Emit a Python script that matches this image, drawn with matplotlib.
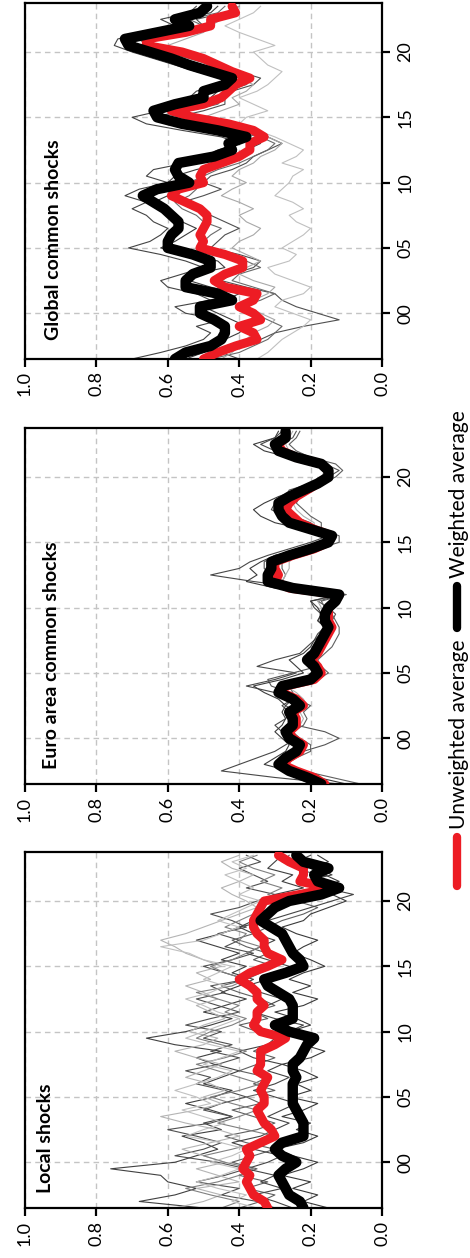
import numpy as np
import matplotlib
matplotlib.use("Agg")
import matplotlib.pyplot as plt
from matplotlib.lines import Line2D

plt.rcParams["font.family"] = ["Lato", "DejaVu Sans"]

# half-yearly observations, mid-1996 to mid-2023
years = np.arange(1996.5, 2023.6, 0.5)
year_ticks = [2000, 2005, 2010, 2015, 2020]
year_labels = ["00", "05", "10", "15", "20"]
value_ticks = [0.0, 0.2, 0.4, 0.6, 0.8, 1.0]

panel_titles = ["Global common shocks", "Euro area common shocks", "Local shocks"]
legend_labels = ["Unweighted average", "Weighted average"]

# ---- global common shocks
global_unweighted = [
    0.50, 0.46, 0.41, 0.35, 0.36, 0.40, 0.34, 0.36, 0.40, 0.36,
    0.35, 0.44, 0.47, 0.44, 0.39, 0.39, 0.44, 0.51, 0.50, 0.51,
    0.50, 0.49, 0.49, 0.51, 0.55, 0.59, 0.57, 0.50, 0.51, 0.50,
    0.45, 0.40, 0.37, 0.37, 0.33, 0.36, 0.43, 0.53, 0.59, 0.50,
    0.45, 0.43, 0.41, 0.37, 0.42, 0.46, 0.50, 0.56, 0.66, 0.66,
    0.55, 0.48, 0.48, 0.41, 0.42]
global_weighted = [
    0.58, 0.55, 0.48, 0.45, 0.44, 0.44, 0.47, 0.51, 0.51, 0.42,
    0.46, 0.55, 0.55, 0.53, 0.48, 0.48, 0.53, 0.60, 0.60, 0.59,
    0.57, 0.57, 0.59, 0.61, 0.64, 0.67, 0.63, 0.54, 0.57, 0.58,
    0.57, 0.47, 0.42, 0.43, 0.38, 0.46, 0.56, 0.63, 0.64, 0.58,
    0.50, 0.50, 0.44, 0.42, 0.48, 0.54, 0.59, 0.65, 0.71, 0.72,
    0.63, 0.54, 0.58, 0.51, 0.49]
global_countries = [
    [0.70, 0.62, 0.55, 0.50, 0.48, 0.52, 0.45, 0.55, 0.58, 0.48,
     0.52, 0.60, 0.62, 0.56, 0.50, 0.55, 0.62, 0.71, 0.65, 0.62,
     0.60, 0.64, 0.66, 0.70, 0.66, 0.72, 0.68, 0.60, 0.66, 0.64,
     0.55, 0.50, 0.46, 0.40, 0.45, 0.56, 0.66, 0.70, 0.62, 0.55,
     0.54, 0.52, 0.46, 0.44, 0.52, 0.58, 0.64, 0.70, 0.75, 0.74,
     0.66, 0.58, 0.62, 0.54, 0.52],
    [0.40, 0.45, 0.38, 0.34, 0.30, 0.22, 0.12, 0.18, 0.24, 0.28,
     0.30, 0.38, 0.45, 0.42, 0.36, 0.34, 0.40, 0.48, 0.46, 0.44,
     0.40, 0.44, 0.48, 0.52, 0.56, 0.50, 0.45, 0.50, 0.48, 0.42,
     0.38, 0.36, 0.32, 0.28, 0.32, 0.42, 0.52, 0.58, 0.50, 0.44,
     0.44, 0.42, 0.36, 0.34, 0.40, 0.46, 0.52, 0.58, 0.64, 0.66,
     0.58, 0.50, 0.52, 0.44, 0.40],
    [0.55, 0.50, 0.46, 0.44, 0.40, 0.38, 0.42, 0.46, 0.50, 0.44,
     0.40, 0.48, 0.54, 0.52, 0.44, 0.46, 0.54, 0.62, 0.58, 0.55,
     0.52, 0.56, 0.60, 0.62, 0.64, 0.60, 0.56, 0.60, 0.58, 0.52,
     0.44, 0.42, 0.38, 0.34, 0.38, 0.48, 0.58, 0.64, 0.56, 0.50,
     0.48, 0.46, 0.40, 0.38, 0.44, 0.50, 0.56, 0.62, 0.70, 0.72,
     0.62, 0.54, 0.58, 0.48, 0.46],
    [0.35, 0.32, 0.30, 0.28, 0.25, 0.22, 0.20, 0.25, 0.30, 0.28,
     0.22, 0.20, 0.25, 0.30, 0.32, 0.26, 0.24, 0.28, 0.25, 0.22,
     0.20, 0.24, 0.26, 0.22, 0.25, 0.30, 0.28, 0.26, 0.25, 0.22,
     0.28, 0.24, 0.22, 0.26, 0.30, 0.35, 0.40, 0.38, 0.32, 0.36,
     0.40, 0.35, 0.32, 0.30, 0.28, 0.32, 0.34, 0.36, 0.30, 0.35,
     0.40, 0.44, 0.40, 0.36, 0.34],
    [0.48, 0.40, 0.36, 0.32, 0.30, 0.28, 0.32, 0.36, 0.40, 0.34,
     0.30, 0.36, 0.42, 0.40, 0.34, 0.38, 0.46, 0.52, 0.50, 0.48,
     0.45, 0.50, 0.52, 0.56, 0.58, 0.54, 0.52, 0.54, 0.50, 0.46,
     0.40, 0.36, 0.32, 0.30, 0.34, 0.44, 0.56, 0.60, 0.54, 0.46,
     0.44, 0.44, 0.38, 0.36, 0.42, 0.48, 0.54, 0.60, 0.66, 0.68,
     0.58, 0.50, 0.54, 0.46, 0.44],
    [0.45, 0.42, 0.40, 0.38, 0.36, 0.32, 0.30, 0.34, 0.38, 0.36,
     0.32, 0.30, 0.36, 0.40, 0.38, 0.34, 0.38, 0.42, 0.40, 0.36,
     0.34, 0.38, 0.40, 0.36, 0.40, 0.45, 0.42, 0.38, 0.42, 0.40,
     0.36, 0.34, 0.30, 0.28, 0.32, 0.40, 0.48, 0.50, 0.45, 0.40,
     0.42, 0.38, 0.36, 0.40, 0.44, 0.48, 0.52, 0.58, 0.60, 0.55,
     0.50, 0.48, 0.45, 0.42, 0.40],
]

# ---- euro area common shocks
euro_unweighted = [
    0.16, 0.19, 0.24, 0.28, 0.26, 0.23, 0.22, 0.25, 0.26, 0.24,
    0.24, 0.25, 0.22, 0.24, 0.28, 0.27, 0.19, 0.17, 0.18, 0.20,
    0.18, 0.17, 0.16, 0.15, 0.14, 0.15, 0.15, 0.15, 0.13, 0.12,
    0.26, 0.30, 0.29, 0.30, 0.30, 0.25, 0.19, 0.15, 0.14, 0.19,
    0.23, 0.25, 0.27, 0.26, 0.24, 0.21, 0.18, 0.15, 0.15, 0.17,
    0.24, 0.28, 0.29, 0.27, 0.27]
euro_weighted = [
    0.17, 0.21, 0.26, 0.29, 0.27, 0.24, 0.23, 0.26, 0.27, 0.25,
    0.25, 0.26, 0.23, 0.25, 0.29, 0.28, 0.20, 0.18, 0.19, 0.21,
    0.19, 0.18, 0.17, 0.16, 0.15, 0.16, 0.16, 0.15, 0.13, 0.12,
    0.25, 0.32, 0.32, 0.31, 0.31, 0.26, 0.20, 0.15, 0.14, 0.20,
    0.26, 0.28, 0.29, 0.29, 0.26, 0.22, 0.18, 0.15, 0.15, 0.17,
    0.24, 0.29, 0.30, 0.27, 0.27]
euro_countries = [
    [0.12, 0.30, 0.45, 0.40, 0.35, 0.30, 0.27, 0.24, 0.28, 0.30,
     0.27, 0.26, 0.28, 0.25, 0.30, 0.38, 0.30, 0.24, 0.35, 0.30,
     0.23, 0.21, 0.19, 0.18, 0.16, 0.18, 0.17, 0.19, 0.20, 0.11,
     0.22, 0.36, 0.48, 0.40, 0.37, 0.32, 0.26, 0.20, 0.15, 0.20,
     0.22, 0.27, 0.31, 0.30, 0.28, 0.24, 0.20, 0.16, 0.14, 0.18,
     0.25, 0.30, 0.34, 0.30, 0.28],
    [0.20, 0.24, 0.28, 0.30, 0.28, 0.22, 0.16, 0.12, 0.16, 0.24,
     0.25, 0.24, 0.27, 0.25, 0.26, 0.31, 0.32, 0.25, 0.18, 0.20,
     0.21, 0.18, 0.17, 0.14, 0.13, 0.14, 0.13, 0.15, 0.18, 0.11,
     0.24, 0.30, 0.31, 0.33, 0.33, 0.30, 0.21, 0.14, 0.13, 0.18,
     0.20, 0.25, 0.26, 0.28, 0.27, 0.26, 0.20, 0.15, 0.12, 0.16,
     0.22, 0.27, 0.29, 0.25, 0.24],
    [0.06, 0.14, 0.22, 0.27, 0.24, 0.20, 0.20, 0.23, 0.25, 0.22,
     0.21, 0.22, 0.20, 0.24, 0.25, 0.26, 0.18, 0.15, 0.17, 0.18,
     0.16, 0.14, 0.13, 0.12, 0.12, 0.13, 0.14, 0.16, 0.17, 0.10,
     0.21, 0.28, 0.27, 0.28, 0.28, 0.24, 0.18, 0.12, 0.12, 0.17,
     0.17, 0.20, 0.22, 0.24, 0.23, 0.20, 0.17, 0.13, 0.11, 0.13,
     0.20, 0.24, 0.26, 0.24, 0.23],
    [0.18, 0.20, 0.22, 0.26, 0.25, 0.22, 0.22, 0.24, 0.25, 0.23,
     0.22, 0.23, 0.21, 0.22, 0.24, 0.27, 0.22, 0.19, 0.20, 0.20,
     0.18, 0.17, 0.16, 0.15, 0.15, 0.16, 0.16, 0.17, 0.18, 0.14,
     0.24, 0.28, 0.27, 0.26, 0.26, 0.24, 0.20, 0.15, 0.15, 0.19,
     0.19, 0.22, 0.24, 0.25, 0.24, 0.22, 0.19, 0.17, 0.16, 0.17,
     0.22, 0.26, 0.27, 0.26, 0.25],
    [0.10, 0.18, 0.26, 0.33, 0.30, 0.27, 0.26, 0.28, 0.30, 0.28,
     0.27, 0.28, 0.27, 0.29, 0.33, 0.36, 0.28, 0.22, 0.24, 0.26,
     0.22, 0.20, 0.19, 0.17, 0.16, 0.18, 0.17, 0.18, 0.20, 0.12,
     0.30, 0.38, 0.35, 0.37, 0.34, 0.30, 0.22, 0.16, 0.15, 0.22,
     0.30, 0.34, 0.36, 0.33, 0.29, 0.24, 0.19, 0.15, 0.14, 0.16,
     0.26, 0.33, 0.36, 0.30, 0.29],
]

# ---- local shocks
local_unweighted = [
    0.32, 0.33, 0.36, 0.37, 0.38, 0.37, 0.39, 0.38, 0.37, 0.38,
    0.34, 0.30, 0.31, 0.33, 0.34, 0.35, 0.33, 0.33, 0.34, 0.33,
    0.32, 0.35, 0.34, 0.34, 0.34, 0.30, 0.27, 0.34, 0.36, 0.35,
    0.35, 0.33, 0.35, 0.35, 0.37, 0.40, 0.37, 0.32, 0.28, 0.32,
    0.33, 0.33, 0.35, 0.36, 0.36, 0.35, 0.34, 0.33, 0.23, 0.14,
    0.23, 0.22, 0.22, 0.26, 0.29]
local_weighted = [
    0.22, 0.23, 0.26, 0.27, 0.28, 0.29, 0.27, 0.24, 0.28, 0.30,
    0.28, 0.22, 0.22, 0.22, 0.23, 0.24, 0.25, 0.25, 0.25, 0.25,
    0.24, 0.25, 0.25, 0.23, 0.22, 0.21, 0.19, 0.26, 0.30, 0.25,
    0.25, 0.25, 0.26, 0.29, 0.32, 0.33, 0.27, 0.22, 0.23, 0.25,
    0.26, 0.27, 0.28, 0.31, 0.34, 0.32, 0.30, 0.26, 0.17, 0.12,
    0.18, 0.19, 0.15, 0.22, 0.24]
local_countries = [
    [0.50, 0.68, 0.58, 0.52, 0.60, 0.62, 0.76, 0.58, 0.52, 0.46,
     0.50, 0.56, 0.45, 0.50, 0.42, 0.48, 0.55, 0.47, 0.42, 0.50,
     0.45, 0.40, 0.47, 0.52, 0.45, 0.58, 0.66, 0.55, 0.48, 0.42,
     0.50, 0.44, 0.38, 0.45, 0.40, 0.36, 0.42, 0.38, 0.45, 0.40,
     0.46, 0.52, 0.45, 0.40, 0.36, 0.32, 0.30, 0.26, 0.30, 0.22,
     0.28, 0.25, 0.32, 0.30, 0.28],
    [0.30, 0.35, 0.45, 0.40, 0.52, 0.44, 0.38, 0.46, 0.58, 0.50,
     0.45, 0.52, 0.60, 0.48, 0.42, 0.50, 0.45, 0.38, 0.44, 0.52,
     0.48, 0.55, 0.46, 0.40, 0.48, 0.42, 0.50, 0.45, 0.55, 0.48,
     0.40, 0.46, 0.52, 0.44, 0.48, 0.38, 0.44, 0.50, 0.42, 0.36,
     0.44, 0.40, 0.46, 0.38, 0.42, 0.48, 0.40, 0.35, 0.30, 0.38,
     0.32, 0.36, 0.40, 0.34, 0.38],
    [0.15, 0.22, 0.18, 0.25, 0.20, 0.28, 0.22, 0.18, 0.25, 0.30,
     0.22, 0.18, 0.24, 0.20, 0.28, 0.22, 0.18, 0.26, 0.20, 0.24,
     0.18, 0.22, 0.28, 0.20, 0.16, 0.22, 0.18, 0.26, 0.20, 0.24,
     0.30, 0.22, 0.18, 0.25, 0.20, 0.26, 0.22, 0.16, 0.20, 0.25,
     0.22, 0.18, 0.24, 0.28, 0.22, 0.20, 0.15, 0.10, 0.14, 0.18,
     0.12, 0.16, 0.20, 0.15, 0.18],
    [0.40, 0.34, 0.30, 0.38, 0.32, 0.40, 0.35, 0.42, 0.36, 0.30,
     0.38, 0.44, 0.35, 0.30, 0.36, 0.42, 0.34, 0.38, 0.30, 0.36,
     0.32, 0.40, 0.35, 0.30, 0.36, 0.32, 0.28, 0.35, 0.40, 0.32,
     0.36, 0.30, 0.34, 0.40, 0.45, 0.38, 0.34, 0.30, 0.36, 0.32,
     0.38, 0.42, 0.36, 0.32, 0.28, 0.22, 0.18, 0.24, 0.20, 0.14,
     0.20, 0.18, 0.24, 0.28, 0.26],
    [0.58, 0.50, 0.45, 0.52, 0.40, 0.46, 0.52, 0.44, 0.50, 0.56,
     0.48, 0.40, 0.46, 0.55, 0.62, 0.52, 0.45, 0.50, 0.44, 0.48,
     0.55, 0.50, 0.45, 0.52, 0.58, 0.50, 0.46, 0.54, 0.50, 0.44,
     0.48, 0.52, 0.46, 0.50, 0.55, 0.48, 0.52, 0.45, 0.50, 0.55,
     0.58, 0.62, 0.55, 0.50, 0.45, 0.40, 0.35, 0.38, 0.42, 0.45,
     0.40, 0.36, 0.42, 0.45, 0.40],
    [0.25, 0.30, 0.36, 0.28, 0.34, 0.30, 0.38, 0.32, 0.28, 0.36,
     0.42, 0.34, 0.30, 0.26, 0.32, 0.28, 0.24, 0.30, 0.36, 0.30,
     0.26, 0.32, 0.28, 0.36, 0.40, 0.32, 0.30, 0.26, 0.22, 0.30,
     0.36, 0.32, 0.28, 0.34, 0.38, 0.32, 0.28, 0.26, 0.32, 0.38,
     0.34, 0.30, 0.36, 0.40, 0.32, 0.26, 0.20, 0.14, 0.08, 0.16,
     0.22, 0.14, 0.18, 0.24, 0.20],
    [0.45, 0.40, 0.48, 0.55, 0.46, 0.40, 0.36, 0.44, 0.50, 0.42,
     0.35, 0.30, 0.38, 0.46, 0.40, 0.35, 0.42, 0.48, 0.40, 0.34,
     0.40, 0.46, 0.52, 0.44, 0.38, 0.45, 0.52, 0.48, 0.42, 0.38,
     0.44, 0.40, 0.46, 0.52, 0.42, 0.38, 0.44, 0.48, 0.42, 0.38,
     0.34, 0.40, 0.38, 0.44, 0.40, 0.36, 0.30, 0.26, 0.32, 0.28,
     0.34, 0.30, 0.36, 0.40, 0.35],
    [0.35, 0.42, 0.38, 0.46, 0.52, 0.45, 0.40, 0.48, 0.42, 0.38,
     0.45, 0.55, 0.50, 0.44, 0.50, 0.56, 0.48, 0.52, 0.58, 0.52,
     0.46, 0.42, 0.50, 0.45, 0.40, 0.48, 0.55, 0.50, 0.45, 0.40,
     0.46, 0.50, 0.55, 0.48, 0.44, 0.50, 0.46, 0.42, 0.50, 0.54,
     0.62, 0.50, 0.45, 0.40, 0.46, 0.42, 0.38, 0.34, 0.40, 0.36,
     0.40, 0.44, 0.38, 0.42, 0.36],
]

RED = "#ed1c24"
W, H = 470, 1258

# the chart is drawn turned a quarter turn: time runs up the page, share runs right to left
panels = [
    (global_countries, ["#444444", "#505050", "#3c3c3c", "#c0c0c0", "#6a6a6a", "#a8a8a8"],
     global_unweighted, global_weighted, 3, (45, 19)),
    (euro_countries, ["#484848", "#555555", "#606060", "#b0b0b0", "#3c3c3c"],
     euro_unweighted, euro_weighted, 428, (43, 15)),
    (local_countries, ["#404040", "#505050", "#3a3a3a", "#606060", "#b4b4b4", "#454545", "#808080", "#c0c0c0"],
     local_unweighted, local_weighted, 852, (37, 15)),
]

fig = plt.figure(figsize=(W / 100, H / 100), dpi=100)

for (countries, shades, unweighted, weighted, top, tpos), title in zip(panels, panel_titles):
    ax = fig.add_axes([25 / W, 1 - (top + 356) / H, 357 / W, 356 / H])
    for vals, shade in zip(countries, shades):
        ax.plot(vals, years, color=shade, lw=0.8, zorder=2)
    ax.plot(unweighted, years, color=RED, lw=6.5, solid_capstyle="round", zorder=3)
    ax.plot(weighted, years, color="black", lw=7.5, solid_capstyle="round", zorder=4)

    ax.set_xlim(1.0, 0.0)
    ax.set_ylim(1996.5, 2023.75)
    ax.set_xticks(value_ticks, [f"{v:.1f}" for v in value_ticks])
    ax.yaxis.tick_right()
    ax.set_yticks(year_ticks, year_labels)
    ax.tick_params(axis="x", labelrotation=90, length=6, width=1.6, pad=3, labelsize=13)
    ax.tick_params(axis="y", labelrotation=90, length=6, width=1.6, pad=5, labelsize=13)
    for lab in ax.get_yticklabels():
        lab.set_va("center")
    ax.grid(True, color="#c4c4c4", linestyle=(0, (4, 3)), lw=1.0)
    ax.set_axisbelow(True)
    for sp in ax.spines.values():
        sp.set_linewidth(1.6)

    ax.text((tpos[0] - 25) / 357, tpos[1] / 356, title, transform=ax.transAxes,
            rotation=90, ha="left", va="bottom", fontsize=14, fontweight="bold")

# legend, placed by hand so it can run up the page
fig.add_artist(Line2D([457 / W] * 2, [1 - 886 / H, 1 - 837 / H], color=RED, lw=6,
                      solid_capstyle="round"))
fig.text(459 / W, 1 - 829 / H, legend_labels[0], rotation=90, ha="center", va="bottom", fontsize=15)
fig.add_artist(Line2D([457 / W] * 2, [1 - 628 / H, 1 - 586 / H], color="black", lw=6,
                      solid_capstyle="round"))
fig.text(459 / W, 1 - 578 / H, legend_labels[1], rotation=90, ha="center", va="bottom", fontsize=15)

fig.savefig("out.png", dpi=100)
